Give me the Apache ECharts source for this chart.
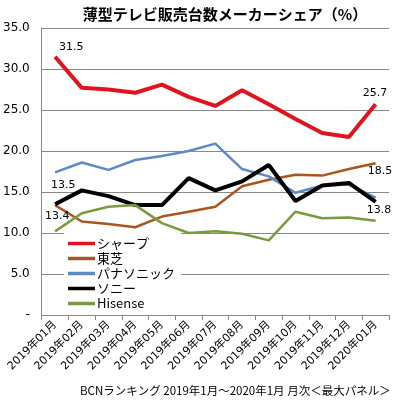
<!DOCTYPE html>
<html>
<head>
<meta charset="utf-8">
<script src="https://cdn.jsdelivr.net/npm/echarts@6/dist/echarts.min.js"></script>
<style>
  html, body { margin: 0; padding: 0; background: #fff; }
  #chart { width: 398px; height: 403px; }
</style>
</head>
<body>
<div id="chart"></div>
<script>
const months = [
  "2019年01月", "2019年02月", "2019年03月", "2019年04月", "2019年05月", "2019年06月", "2019年07月",
  "2019年08月", "2019年09月", "2019年10月", "2019年11月", "2019年12月", "2020年01月",
];
const sharp = [31.5, 27.7, 27.5, 27.1, 28.1, 26.6, 25.5, 27.4, 25.7, 23.9, 22.2, 21.7, 25.7];
const toshiba = [13.4, 11.4, 11.1, 10.7, 12.0, 12.6, 13.2, 15.7, 16.5, 17.1, 17.0, 17.8, 18.5];
const panasonic = [17.4, 18.6, 17.7, 18.9, 19.4, 20.0, 20.9, 17.8, 16.9, 14.9, 15.8, 15.9, 14.3];
const sony = [13.5, 15.2, 14.5, 13.4, 13.4, 16.7, 15.2, 16.3, 18.3, 13.9, 15.8, 16.1, 13.8];
const hisense = [10.2, 12.4, 13.2, 13.4, 11.2, 10.0, 10.2, 9.9, 9.1, 12.6, 11.8, 11.9, 11.5];

const font = "DejaVu Sans, 'Noto Sans CJK JP', sans-serif";
const jp = "'Noto Sans CJK JP', sans-serif";
const chart = echarts.init(document.getElementById("chart"));

// label only the first and last points; pos is the text's top-left relative to the point
function withLabels(values, firstPos, lastPos) {
  return values.map((v, i) => {
    const pos = i === 0 ? firstPos : i === values.length - 1 ? lastPos : null;
    if (!pos) return v;
    return {
      value: v,
      label: {
        show: true,
        position: pos,
        align: "left",
        verticalAlign: "top",
        formatter: (p) => p.value.toFixed(1),
      },
    };
  });
}

function line(name, color, width, data) {
  return {
    name,
    type: "line",
    symbol: "circle",
    symbolSize: 0,
    showSymbol: true,
    data,
    lineStyle: { color, width },
    itemStyle: { color },
    label: { color: "#000", fontSize: 11, fontFamily: font },
  };
}

const legendNames = ["シャープ", "東芝", "パナソニック", "ソニー", "Hisense"];

chart.setOption({
  animation: false,
  title: {
    text: "薄型テレビ販売台数メーカーシェア（%）",
    left: 220,
    textAlign: "center",
    top: 2,
    textStyle: { fontSize: 15, fontWeight: "bold", color: "#000", fontFamily: jp },
  },
  graphic: [{
    type: "text",
    left: 80,
    top: 385,
    style: {
      text: "BCNランキング 2019年1月～2020年1月 月次＜最大パネル＞",
      fontSize: 11.5,
      fill: "#000",
      fontFamily: jp,
    },
  }],
  legend: {
    orient: "vertical",
    left: 64,
    top: 233,
    padding: [3, 6, 3, 4],
    icon: "rect",
    itemWidth: 27,
    itemHeight: 3.5,
    itemGap: 0,
    backgroundColor: "#fff",
    textStyle: { fontSize: 13, lineHeight: 15, color: "#000", padding: [0, 0, 0, -3], fontFamily: jp },
    data: legendNames,
  },
  grid: { left: 40, right: 9, top: 28, bottom: 88 },
  xAxis: {
    type: "category",
    data: months,
    boundaryGap: true,
    axisLine: { lineStyle: { color: "#888" } },
    axisTick: { show: true, length: 5, lineStyle: { color: "#888" } },
    axisLabel: { rotate: 45, fontSize: 11, color: "#000", margin: 8, fontFamily: font },
  },
  yAxis: {
    type: "value",
    min: 0,
    max: 35,
    interval: 5,
    axisLine: { show: true, lineStyle: { color: "#888" } },
    axisTick: { show: false },
    splitLine: { lineStyle: { color: "#888" } },
    axisLabel: {
      fontSize: 12,
      color: "#000",
      fontFamily: font,
      margin: 12,
      formatter: (v) => (v === 0 ? "-" : v.toFixed(1)),
    },
  },
  series: [
    line("シャープ", "#e0141e", 4, withLabels(sharp, [4, -15], [-13, -17])),
    line("東芝", "#a9561e", 2.5, withLabels(toshiba, [-10, 6], [-8, 2])),
    line("パナソニック", "#5b8ac4", 2.5, panasonic),
    line("ソニー", "#000", 4, withLabels(sony, [-4, -25], [-9, 3])),
    line("Hisense", "#7a9a40", 2.5, hisense),
  ],
});
</script>
</body>
</html>
